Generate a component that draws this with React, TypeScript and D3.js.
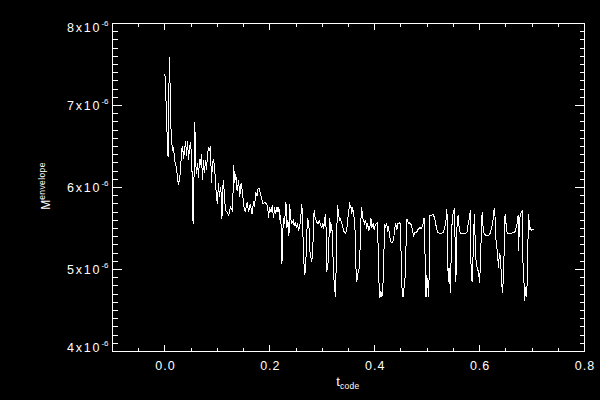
import React from "react";
import * as d3 from "d3";

// ---- data ----
const xTicks = [0, 0.2, 0.4, 0.6, 0.8];
const xTickLabels = ["0.0", "0.2", "0.4", "0.6", "0.8"];
const yTicks = [4, 5, 6, 7, 8]; // in units of 1e-6
const yTickMantissas = ["4", "5", "6", "7", "8"];
const yTickExponent = "-6";
const xTitle = "t";
const xTitleSub = "code";
const yTitle = "M";
const yTitleSup = "envelope";

// [t_code, M_envelope (x1e-6)]
const series: [number, number][] = [
  [0.0000,7.38],[0.0013,7.21],[0.0032,6.82],[0.0051,6.45],[0.0061,6.37],[0.0070,7.06],[0.0080,7.35],[0.0089,7.59],[0.0099,7.18],[0.0108,6.82],
  [0.0127,6.57],[0.0146,6.45],[0.0165,6.49],[0.0184,6.33],[0.0203,6.27],[0.0222,6.24],[0.0241,6.09],[0.0260,6.05],[0.0279,6.09],[0.0298,6.23],
  [0.0317,6.45],[0.0336,6.51],[0.0355,6.35],[0.0374,6.45],[0.0393,6.57],[0.0412,6.39],[0.0431,6.57],[0.0450,6.33],[0.0469,6.49],[0.0488,6.55],
  [0.0507,6.39],[0.0526,5.99],[0.0536,5.56],[0.0555,6.15],[0.0570,6.80],[0.0583,6.33],[0.0602,6.17],[0.0621,6.30],[0.0640,6.12],[0.0659,6.35],
  [0.0678,6.27],[0.0697,6.41],[0.0716,6.09],[0.0735,6.33],[0.0754,6.18],[0.0773,6.33],[0.0792,6.21],[0.0811,6.39],[0.0830,6.49],[0.0849,6.45],
  [0.0868,6.51],[0.0887,6.06],[0.0906,6.30],[0.0925,6.33],[0.0944,6.27],[0.0963,6.09],[0.0982,5.88],[0.1001,5.80],[0.1020,6.05],[0.1039,5.88],
  [0.1058,6.00],[0.1077,5.90],[0.1087,5.61],[0.1096,5.93],[0.1115,6.09],
  [0.1153,5.72],[0.1186,5.70],[0.1216,5.66],[0.1248,5.76],[0.1281,5.72],[0.1300,5.96],[0.1311,6.27],[0.1330,6.05],[0.1349,6.17],[0.1376,5.96],
  [0.1406,6.09],[0.1425,5.88],[0.1452,6.05],[0.1476,5.96],[0.1501,5.78],[0.1533,5.70],[0.1566,5.82],[0.1596,5.70],[0.1628,5.80],[0.1661,5.68],
  [0.1691,5.84],[0.1710,5.76],[0.1729,5.94],[0.1756,5.90],[0.1775,5.99],[0.1799,5.99],[0.1818,5.93],[0.1843,5.87],[0.1870,5.80],[0.1900,5.82],
  [0.1932,5.80],[0.1957,5.78],[0.1976,5.63],[0.1995,5.76],[0.2022,5.70],[0.2046,5.78],[0.2071,5.63],[0.2090,5.76],[0.2109,5.68],[0.2136,5.76],
  [0.2155,5.70],[0.2174,5.76],[0.2185,5.60],[0.2204,5.66],[0.2217,5.51],[0.2231,5.07],[0.2242,5.39],[0.2261,5.63],[0.2280,5.56],[0.2307,5.82],
  [0.2326,5.51],[0.2345,5.60],[0.2364,5.41],[0.2379,5.80],
  [0.2394,5.63],[0.2421,5.56],[0.2445,5.60],[0.2464,5.54],[0.2483,5.57],[0.2508,5.51],[0.2527,5.56],[0.2546,5.48],[0.2565,5.51],[0.2584,5.60],
  [0.2611,5.80],[0.2630,5.44],[0.2649,5.09],[0.2668,4.93],[0.2687,5.10],[0.2706,5.44],[0.2717,5.63],[0.2744,5.56],[0.2763,5.23],[0.2782,5.15],
  [0.2801,5.09],[0.2825,5.35],[0.2844,5.72],[0.2863,5.63],[0.2882,5.60],[0.2901,5.57],[0.2926,5.56],[0.2945,5.60],[0.2964,5.54],[0.2991,5.51],
  [0.3010,5.57],[0.3029,5.50],[0.3048,5.63],[0.3067,5.68],[0.3086,4.99],[0.3105,5.01],[0.3124,5.32],[0.3143,5.63],[0.3162,5.44],[0.3181,5.56],
  [0.3200,5.23],[0.3219,4.90],[0.3238,4.78],[0.3249,4.66],[0.3268,5.10],[0.3287,5.78],[0.3306,5.72],[0.3325,5.60],[0.3344,5.62],[0.3371,5.57],
  [0.3395,5.51],[0.3420,5.45],[0.3447,5.44],[0.3471,5.51],[0.3496,5.68],[0.3523,5.80],[0.3547,5.76],[0.3561,5.68],[0.3580,5.76],[0.3599,5.66],
  [0.3618,5.60],
  [0.3629,5.39],[0.3642,5.02],[0.3656,4.85],[0.3680,4.95],[0.3699,4.99],[0.3718,5.20],[0.3732,5.56],[0.3751,5.76],[0.3770,5.63],[0.3789,5.60],
  [0.3808,5.56],[0.3827,5.60],[0.3846,5.50],[0.3865,5.56],[0.3884,5.48],[0.3908,5.51],[0.3927,5.63],[0.3946,5.51],[0.3971,5.56],[0.3990,5.48],
  [0.4009,5.54],[0.4028,5.56],[0.4047,5.57],[0.4060,5.39],[0.4074,5.07],[0.4085,4.74],[0.4098,4.65],[0.4117,4.74],[0.4136,4.66],[0.4155,4.78],
  [0.4174,5.15],[0.4188,5.56],[0.4207,5.51],[0.4226,5.56],[0.4245,5.48],[0.4264,5.51],[0.4288,5.39],[0.4313,5.33],[0.4340,5.33],[0.4364,5.39],
  [0.4383,5.51],[0.4402,5.56],[0.4421,5.48],[0.4440,5.56],[0.4465,5.57],[0.4484,5.56],[0.4497,5.35],[0.4511,4.95],[0.4522,4.74],[0.4541,4.66],
  [0.4560,4.78],[0.4579,4.90],[0.4592,5.15],[0.4606,5.56],[0.4617,5.62],[0.4644,5.56],[0.4668,5.57],
  [0.4701,5.54],[0.4720,5.48],[0.4739,5.41],[0.4763,5.45],[0.4796,5.45],[0.4826,5.49],[0.4858,5.51],[0.4891,5.50],[0.4921,5.56],[0.4940,5.63],
  [0.4953,5.39],[0.4967,4.90],[0.4978,4.66],[0.4991,4.93],[0.5010,4.83],[0.5029,4.66],[0.5043,5.15],[0.5054,5.66],[0.5081,5.66],[0.5111,5.67],
  [0.5143,5.63],[0.5176,5.51],[0.5206,5.45],[0.5238,5.44],[0.5271,5.44],[0.5301,5.45],[0.5333,5.50],[0.5366,5.63],[0.5377,5.74],[0.5390,5.15],
  [0.5404,4.85],[0.5415,5.02],[0.5428,4.95],[0.5442,4.71],[0.5453,5.02],[0.5466,5.44],[0.5480,5.63],[0.5504,5.72],[0.5523,5.74],[0.5537,5.15],
  [0.5548,4.85],[0.5561,5.35],[0.5575,5.63],[0.5594,5.66],[0.5613,5.48],[0.5632,5.44],[0.5681,5.44],[0.5727,5.44],[0.5757,5.45],[0.5784,5.56],
  [0.5803,5.62],[0.5822,5.72],
  [0.5837,5.02],[0.5856,4.85],[0.5871,5.07],[0.5884,5.44],[0.5903,5.68],[0.5922,5.15],[0.5941,5.07],[0.5960,4.99],[0.5979,4.99],[0.5998,4.83],
  [0.6017,5.07],[0.6036,5.56],[0.6050,5.70],[0.6069,5.48],[0.6088,5.44],[0.6126,5.41],[0.6164,5.41],[0.6202,5.44],[0.6226,5.51],[0.6251,5.56],
  [0.6270,5.72],[0.6289,5.74],[0.6302,5.48],[0.6321,5.27],[0.6340,5.23],[0.6359,5.02],[0.6378,5.20],[0.6397,5.15],[0.6416,4.90],[0.6435,4.71],
  [0.6454,4.90],[0.6468,5.23],[0.6479,5.63],[0.6492,5.68],[0.6511,5.48],[0.6536,5.44],[0.6568,5.44],[0.6606,5.44],[0.6644,5.45],[0.6669,5.45],
  [0.6696,5.51],[0.6715,5.56],[0.6734,5.66],[0.6745,5.23],[0.6758,5.56],[0.6777,5.68],[0.6796,5.70],[0.6810,5.72],[0.6821,5.15],[0.6840,4.95],
  [0.6859,4.62],[0.6878,4.78],[0.6897,4.66],[0.6916,5.02],[0.6929,5.68],[0.6948,5.56],[0.6962,5.48],[0.6973,5.50],[0.6992,5.48],[0.7011,5.49],
  [0.7030,5.49],
];

// ---- layout ----
const W = 600;
const H = 400;
const FONT = "'Liberation Sans', Arial, sans-serif";

export default function App() {
  const x = d3.scaleLinear().domain([-0.1, 0.8]).range([112.5, 584.5]);
  const y = d3.scaleLinear().domain([4, 8]).range([351.5, 23.5]);
  const [x0, x1] = x.range();
  const [y0, y1] = y.range();

  const px = (v: number) => Math.floor(x(v)) + 0.5;
  const py = (v: number) => Math.floor(y(v)) + 0.5;

  const xMinor = d3.range(-0.05, 0.8, 0.05).filter(
    (v) => !xTicks.some((t) => Math.abs(t - v) < 1e-6)
  );
  const yMinor = d3.range(4.1, 8, 0.1).filter(
    (v) => !yTicks.some((t) => Math.abs(t - v) < 1e-6)
  );

  const xMajLen = 6.6, xMinLen = 3.3, yMajLen = 9.5, yMinLen = 5;

  const line = d3
    .line<[number, number]>()
    .x((d) => x(d[0]))
    .y((d) => y(d[1]));

  return (
    <svg
      width={W}
      height={H}
      style={{ position: "absolute", left: 0, top: 0, display: "block" }}
    >
      <rect x={0} y={0} width={W} height={H} fill="black" />
      <g stroke="white" strokeWidth={1} shapeRendering="crispEdges" fill="none">
        <rect x={x0} y={y1} width={x1 - x0} height={y0 - y1} />
        {xTicks.map((v) => (
          <g key={"xm" + v}>
            <line x1={px(v)} x2={px(v)} y1={y0} y2={y0 - xMajLen} />
            <line x1={px(v)} x2={px(v)} y1={y1} y2={y1 + xMajLen} />
          </g>
        ))}
        {xMinor.map((v) => (
          <g key={"xn" + v}>
            <line x1={px(v)} x2={px(v)} y1={y0} y2={y0 - xMinLen} />
            <line x1={px(v)} x2={px(v)} y1={y1} y2={y1 + xMinLen} />
          </g>
        ))}
        {yTicks.map((v) => (
          <g key={"ym" + v}>
            <line x1={x0} x2={x0 + yMajLen} y1={py(v)} y2={py(v)} />
            <line x1={x1} x2={x1 - yMajLen} y1={py(v)} y2={py(v)} />
          </g>
        ))}
        {yMinor.map((v) => (
          <g key={"yn" + v}>
            <line x1={x0} x2={x0 + yMinLen} y1={py(v)} y2={py(v)} />
            <line x1={x1} x2={x1 - yMinLen} y1={py(v)} y2={py(v)} />
          </g>
        ))}
      </g>

      <path
        d={line(series) || ""}
        fill="none"
        stroke="white"
        strokeWidth={1}
        shapeRendering="crispEdges"
      />

      <g fill="white" fontFamily={FONT}>
        {xTicks.map((v, i) => (
          <text
            key={"xl" + v}
            x={x(v) + 0.5}
            y={369.5}
            textAnchor="middle"
            fontSize={12.5}
            letterSpacing={1}
          >
            {xTickLabels[i]}
          </text>
        ))}
        {yTicks.map((v, i) => {
          const off = i === yTicks.length - 1 ? 8.2 : i === 0 ? 0.2 : 4.6;
          return (
            <text
              key={"yl" + v}
              x={108.5}
              y={y(v) + off}
              textAnchor="end"
              fontSize={12.5}
            >
              <tspan letterSpacing={1.8}>{yTickMantissas[i] + "x10"}</tspan>
              <tspan fontSize={8} dy={-6}>
                {yTickExponent}
              </tspan>
            </text>
          );
        })}
        <text x={348} y={386} textAnchor="middle" fontSize={13}>
          {xTitle}
          <tspan fontSize={8.5} dy={3} letterSpacing={0.3}>
            {xTitleSub}
          </tspan>
        </text>
        <text
          transform="translate(50,186) rotate(-90)"
          textAnchor="middle"
          fontSize={12}
        >
          {yTitle}
          <tspan fontSize={8.5} dy={-5.5} letterSpacing={0.4}>
            {yTitleSup}
          </tspan>
        </text>
      </g>
    </svg>
  );
}
